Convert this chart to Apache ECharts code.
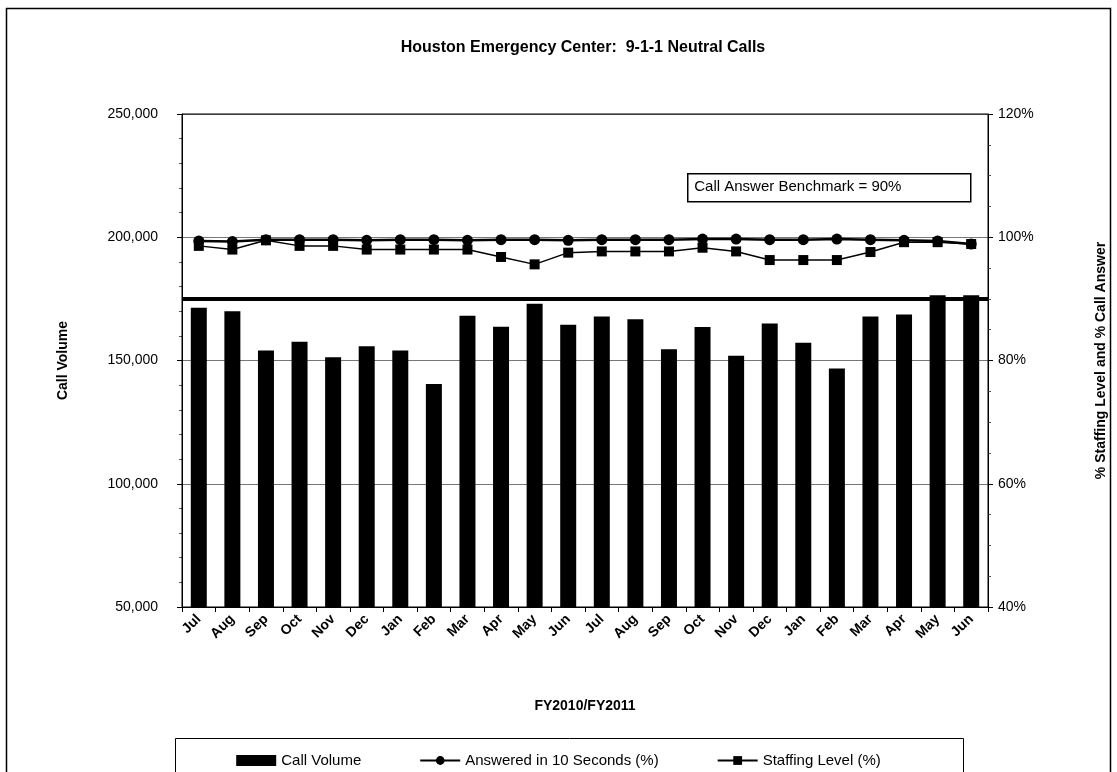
<!DOCTYPE html>
<html>
<head>
<meta charset="utf-8">
<script src="https://cdn.jsdelivr.net/npm/echarts@6/dist/echarts.min.js"></script>
<style>
  html, body { margin: 0; padding: 0; background: #fff; }
  #chart { width: 1117px; height: 772px; }
</style>
</head>
<body>
<div id="chart"></div>
<script>
// FY2010 / FY2011 months
var months = ['Jul', 'Aug', 'Sep', 'Oct', 'Nov', 'Dec', 'Jan', 'Feb', 'Mar', 'Apr', 'May', 'Jun',
              'Jul', 'Aug', 'Sep', 'Oct', 'Nov', 'Dec', 'Jan', 'Feb', 'Mar', 'Apr', 'May', 'Jun'];

var callVolume = [171400, 170000, 154100, 157600, 151300, 155800, 154100, 140500, 168200, 163700, 173000, 164500,
                  167900, 166700, 154600, 163600, 151900, 165000, 157200, 146800, 167800, 168700, 176500, 176500];

var answered10s = [99.4, 99.3, 99.6, 99.6, 99.6, 99.5, 99.6, 99.6, 99.5, 99.6, 99.6, 99.5,
                   99.6, 99.6, 99.6, 99.7, 99.7, 99.6, 99.6, 99.7, 99.6, 99.5, 99.4, 98.9];

var staffing = [98.6, 98.0, 99.5, 98.6, 98.6, 98.0, 98.0, 98.0, 98.0, 96.8, 95.6, 97.5,
                97.7, 97.7, 97.7, 98.3, 97.7, 96.3, 96.3, 96.3, 97.6, 99.2, 99.2, 98.9];

var benchmark = 90;

var chart = echarts.init(document.getElementById('chart'));
var font = '"Liberation Sans", Arial, sans-serif';

chart.setOption({
  animation: false,
  textStyle: { fontFamily: font, color: '#000' },
  title: {
    text: 'Houston Emergency Center:  9-1-1 Neutral Calls',
    left: 578,
    top: 35,
    textAlign: 'center',
    textStyle: { fontSize: 16, fontWeight: 'bold', color: '#000', fontFamily: font }
  },
  grid: { left: 182, right: 129, top: 114, bottom: 165 },
  legend: {
    left: 'center',
    top: 748,
    itemGap: 58,
    itemWidth: 40,
    itemHeight: 11,
    textStyle: { fontSize: 15, color: '#000', fontFamily: font },
    data: [
      { name: 'Call Volume', icon: 'rect' },
      { name: 'Answered in 10 Seconds (%)' },
      { name: 'Staffing Level (%)' }
    ]
  },
  xAxis: {
    type: 'category',
    data: months,
    name: 'FY2010/FY2011',
    nameLocation: 'middle',
    nameGap: 92,
    nameTextStyle: { fontSize: 14, fontWeight: 'bold', color: '#000' },
    axisLine: { lineStyle: { color: '#000', width: 1 } },
    axisTick: { show: true, length: 5, lineStyle: { color: '#000' } },
    axisLabel: { interval: 0, rotate: 45, fontSize: 14, fontWeight: 'bold', color: '#000', margin: 10 }
  },
  yAxis: [
    {
      type: 'value',
      min: 50000,
      max: 250000,
      interval: 50000,
      name: 'Call Volume',
      nameLocation: 'middle',
      nameGap: 112,
      nameTextStyle: { fontSize: 14, fontWeight: 'bold', color: '#000' },
      axisLine: { show: true, lineStyle: { color: '#000' } },
      axisTick: { show: true, length: 5, lineStyle: { color: '#000' } },
      minorTick: { show: true, splitNumber: 5, length: 3, lineStyle: { color: '#555' } },
      axisLabel: {
        fontSize: 14, color: '#000', margin: 24,
        formatter: function (v) { return v.toLocaleString('en-US'); }
      },
      splitLine: { show: true, lineStyle: { color: '#777', width: 1 } }
    },
    {
      type: 'value',
      min: 40,
      max: 120,
      interval: 20,
      name: '% Staffing Level and % Call Answer',
      nameLocation: 'middle',
      nameGap: 106,
      nameRotate: 90,
      nameTextStyle: { fontSize: 14, fontWeight: 'bold', color: '#000' },
      axisLine: { show: true, lineStyle: { color: '#000' } },
      axisTick: { show: true, length: 5, lineStyle: { color: '#000' } },
      minorTick: { show: true, splitNumber: 4, length: 3, lineStyle: { color: '#555' } },
      axisLabel: { fontSize: 14, color: '#000', margin: 10, formatter: '{value}%' },
      splitLine: { show: false }
    }
  ],
  series: [
    {
      name: 'Call Volume',
      type: 'bar',
      yAxisIndex: 0,
      data: callVolume,
      barWidth: 16,
      itemStyle: { color: '#000' },
      z: 1
    },
    {
      name: 'Answered in 10 Seconds (%)',
      type: 'line',
      yAxisIndex: 1,
      data: answered10s,
      symbol: 'circle',
      symbolSize: 11,
      lineStyle: { color: '#000', width: 2.5 },
      itemStyle: { color: '#000' },
      z: 4
    },
    {
      name: 'Staffing Level (%)',
      type: 'line',
      yAxisIndex: 1,
      data: staffing,
      symbol: 'rect',
      symbolSize: 10,
      lineStyle: { color: '#000', width: 1.5 },
      itemStyle: { color: '#000' },
      z: 3,
      markLine: {
        silent: true,
        symbol: 'none',
        label: { show: false },
        lineStyle: { color: '#000', width: 4, type: 'solid' },
        data: [{ yAxis: benchmark }]
      }
    }
  ],
  graphic: [
    {
      type: 'rect',
      shape: { x: 6.5, y: 8.5, width: 1104, height: 800 },
      style: { fill: 'none', stroke: '#000', lineWidth: 1.5 },
      silent: true, z: -1
    },
    {
      type: 'rect',
      shape: { x: 182, y: 114, width: 806, height: 493 },
      style: { fill: 'none', stroke: '#000', lineWidth: 1 },
      silent: true, z: 10
    },
    {
      type: 'rect',
      shape: { x: 175.5, y: 738.5, width: 788, height: 60 },
      style: { fill: 'none', stroke: '#000', lineWidth: 1 },
      silent: true
    },
    {
      type: 'group',
      left: 687, top: 173,
      children: [
        {
          type: 'rect',
          shape: { x: 0.5, y: 0.5, width: 283, height: 28 },
          style: { fill: '#fff', stroke: '#000', lineWidth: 1.5 }
        },
        {
          type: 'text',
          x: 7, y: 6,
          style: { text: 'Call Answer Benchmark = 90%', fontSize: 15, fontFamily: font, fill: '#000' }
        }
      ]
    }
  ]
});
</script>
</body>
</html>
